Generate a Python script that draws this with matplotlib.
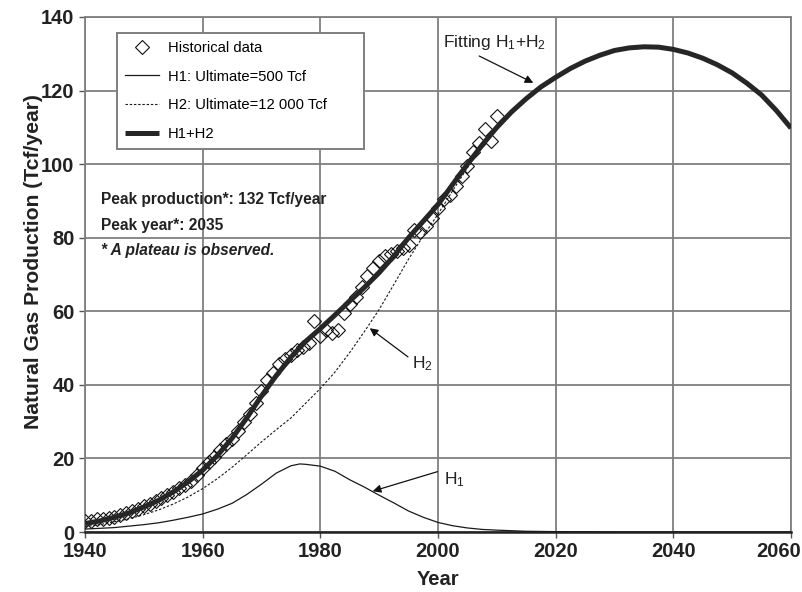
import matplotlib
matplotlib.use('Agg')
import matplotlib.pyplot as plt
import matplotlib.transforms as mtransforms

plt.rcParams['font.family'] = ['Liberation Sans', 'DejaVu Sans']
plt.rcParams['mathtext.fontset'] = 'custom'
plt.rcParams['mathtext.rm'] = 'Liberation Sans'
plt.rcParams['mathtext.it'] = 'Liberation Sans:italic'
plt.rcParams['mathtext.bf'] = 'Liberation Sans:bold'
plt.rcParams['mathtext.default'] = 'regular'

# ---------------- data ----------------
hist_years = list(range(1940, 2011))
hist_values = [2.9, 3.1, 3.4, 3.6, 3.9, 4.2, 4.6, 5.1, 5.7, 6.2,
               7.0, 7.7, 8.4, 9.2, 10.0, 10.9, 11.9, 12.9, 14.0, 15.6,
               17.5, 18.9, 20.5, 22.2, 23.8, 25.4, 27.5, 30.0, 32.2, 35.0,
               38.3, 41.3, 43.3, 45.6, 47.0, 48.2, 49.6, 50.2, 51.5, 57.4,
               53.2, 54.8, 54.0, 55.0, 59.5, 62.0, 63.8, 66.6, 69.6, 71.8,
               73.6, 75.0, 75.6, 76.4, 77.2, 78.0, 82.0, 81.6, 83.2, 85.3,
               88.0, 90.4, 91.6, 94.0, 96.8, 99.5, 103.4, 105.7, 109.5, 106.2,
               113.0]

fit_years = [1940, 1942.5, 1945, 1947.5, 1950, 1952.5, 1955, 1957.5, 1960, 1962.5,
             1965, 1967.5, 1970, 1972.5, 1975, 1977.5, 1980, 1982.5, 1985, 1987.5,
             1990, 1992.5, 1995, 1997.5, 2000, 2002.5, 2005, 2007.5, 2010, 2012.5,
             2015, 2017.5, 2020, 2022.5, 2025, 2027.5, 2030, 2032.5, 2035, 2037.5,
             2040, 2042.5, 2045, 2047.5, 2050, 2052.5, 2055, 2057.5, 2060]
fit_values = [2.3, 3.0, 4.0, 5.2, 6.8, 8.6, 10.9, 13.6, 16.8, 20.8,
              25.5, 31.0, 37.0, 42.5, 47.5, 51.8, 55.3, 59.0, 62.8, 66.5,
              70.5, 75.0, 80.0, 84.5, 89.0, 94.5, 100.0, 105.2, 110.0, 114.2,
              117.8, 121.0, 123.6, 126.0, 128.0, 129.6, 130.9, 131.6, 131.9, 131.8,
              131.2, 130.2, 128.8, 127.0, 124.8, 122.0, 118.8, 114.6, 109.8]

h1_years = [1940, 1942.5, 1945, 1947.5, 1950, 1952.5, 1955, 1957.5, 1960, 1962.5,
            1965, 1967.5, 1970, 1972.5, 1975, 1976.5, 1977.5, 1980, 1982.5, 1985,
            1987.5, 1990, 1992.5, 1995, 1997.5, 2000, 2002.5, 2005, 2007.5, 2010,
            2015, 2020, 2030, 2040, 2050, 2060]
h1_values = [0.8, 1.0, 1.2, 1.6, 2.0, 2.5, 3.2, 4.0, 4.9, 6.2,
             7.8, 10.2, 13.0, 16.0, 18.0, 18.5, 18.4, 17.9, 16.5, 14.2,
             12.2, 10.0, 7.9, 5.7, 4.0, 2.6, 1.7, 1.1, 0.7, 0.5,
             0.2, 0.1, 0.0, 0.0, 0.0, 0.0]

h2_years = [1940, 1942.5, 1945, 1947.5, 1950, 1952.5, 1955, 1957.5, 1960, 1962.5,
            1965, 1967.5, 1970, 1972.5, 1975, 1977.5, 1980, 1982.5, 1985, 1987.5,
            1990, 1992.5, 1995, 1997.5, 2000, 2002.5, 2005, 2007.5, 2010, 2015,
            2020, 2025, 2030, 2035, 2040, 2045, 2050, 2055, 2060]
h2_values = [1.5, 2.0, 2.8, 3.6, 4.7, 6.0, 7.6, 9.5, 11.8, 14.5,
             17.6, 21.0, 24.5, 27.8, 31.0, 35.0, 39.0, 43.5, 48.8, 54.5,
             60.5, 67.3, 74.2, 80.5, 86.4, 92.8, 99.0, 104.5, 109.5, 117.7,
             123.5, 128.0, 130.9, 131.9, 131.2, 128.8, 124.8, 118.8, 109.8]

x_ticks = [1940, 1960, 1980, 2000, 2020, 2040, 2060]
y_ticks = [0, 20, 40, 60, 80, 100, 120, 140]

# ---------------- figure ----------------
fig = plt.figure(figsize=(8.03, 5.92), dpi=100)
ax = fig.add_axes([85 / 803, 1 - 532 / 592, 706 / 803, 515 / 592])

ax.set_xlim(1940, 2060)
ax.set_ylim(0, 140)
ax.set_xticks(x_ticks)
ax.set_yticks(y_ticks)
ax.grid(True, color='#7f7f7f', linewidth=1.3, zorder=0)
ax.set_axisbelow(True)

for s in ['top', 'right', 'left']:
    ax.spines[s].set_color('#7f7f7f')
    ax.spines[s].set_linewidth(1.3)
ax.spines['bottom'].set_color('#222222')
ax.spines['bottom'].set_linewidth(1.8)

ax.tick_params(axis='both', labelsize=14.5, direction='out', length=4,
               color='#555555', width=1)
for lab in ax.get_xticklabels() + ax.get_yticklabels():
    lab.set_fontweight('bold')
    lab.set_color('#222222')
# keep the last x tick label inside the figure
last = ax.get_xticklabels()[-1]
last.set_transform(last.get_transform() +
                   mtransforms.ScaledTranslation(-12 / 100, 0, fig.dpi_scale_trans))

ax.plot(h1_years, h1_values, color='#1a1a1a', linewidth=0.9,
        label='H1: Ultimate=500 Tcf', zorder=3)
ax.plot(h2_years, h2_values, color='#1a1a1a', linewidth=0.8,
        linestyle=(0, (2.2, 1.6)), label='H2: Ultimate=12 000 Tcf', zorder=3)
ax.plot(hist_years, hist_values, linestyle='none', marker='D', markersize=7.5,
        markerfacecolor='none', markeredgecolor='#111111', markeredgewidth=0.8,
        label='Historical data', zorder=4)
ax.plot(fit_years, fit_values, color='#262626', linewidth=3.6,
        label='H1+H2', zorder=5, solid_capstyle='butt', solid_joinstyle='round')

handles, labels = ax.get_legend_handles_labels()
order = [2, 0, 1, 3]
leg = ax.legend([handles[i] for i in order], [labels[i] for i in order],
                loc='upper left', bbox_to_anchor=(0.0449, 0.5, 0.3507, 0.4695),
                mode='expand', borderaxespad=0, fontsize=10.6, fancybox=False,
                framealpha=1, edgecolor='#7f7f7f', handlelength=2.35,
                handletextpad=0.56, labelspacing=1.0, borderpad=0.55)
leg.get_frame().set_linewidth(1.4)
leg.set_zorder(6)

ax.set_xlabel('Year', fontsize=14.5, fontweight='bold', color='#222222', labelpad=6)
ax.set_ylabel('Natural Gas Production (Tcf/year)', fontsize=15.2,
              fontweight='bold', color='#222222', va='center')
ax.yaxis.set_label_coords(-0.073, 0.525)

ax.text(1942.7, 89.2, 'Peak production*: 132 Tcf/year', fontsize=11.2,
        fontweight='bold', color='#222222', va='baseline', zorder=6)
ax.text(1942.7, 82.1, 'Peak year*: 2035', fontsize=11.2,
        fontweight='bold', color='#222222', va='baseline', zorder=6)
ax.text(1942.7, 75.3, '* A plateau is observed.', fontsize=11.2,
        fontweight='bold', fontstyle='italic', color='#222222',
        va='baseline', zorder=6)

arrow = dict(arrowstyle='-|>', color='#111111', lw=0.9, mutation_scale=12,
             shrinkA=0, shrinkB=0)
ax.text(2000.8, 131.9, r'Fitting H$_1$+H$_2$', fontsize=12.5, color='#222222',
        va='baseline', zorder=6)
ax.annotate('', xy=(2016.2, 122.1), xytext=(2007.0, 129.4), arrowprops=arrow,
            zorder=6)
ax.text(1995.5, 44.5, r'H$_2$', fontsize=12.5, color='#222222', va='baseline',
        zorder=6)
ax.annotate('', xy=(1988.4, 55.4), xytext=(1994.9, 47.6), arrowprops=arrow,
            zorder=6)
ax.text(2001.1, 13.0, r'H$_1$', fontsize=12.5, color='#222222', va='baseline',
        zorder=6)
ax.annotate('', xy=(1988.9, 11.1), xytext=(1999.9, 16.4), arrowprops=arrow,
            zorder=6)

fig.savefig('out.png', dpi=100)
